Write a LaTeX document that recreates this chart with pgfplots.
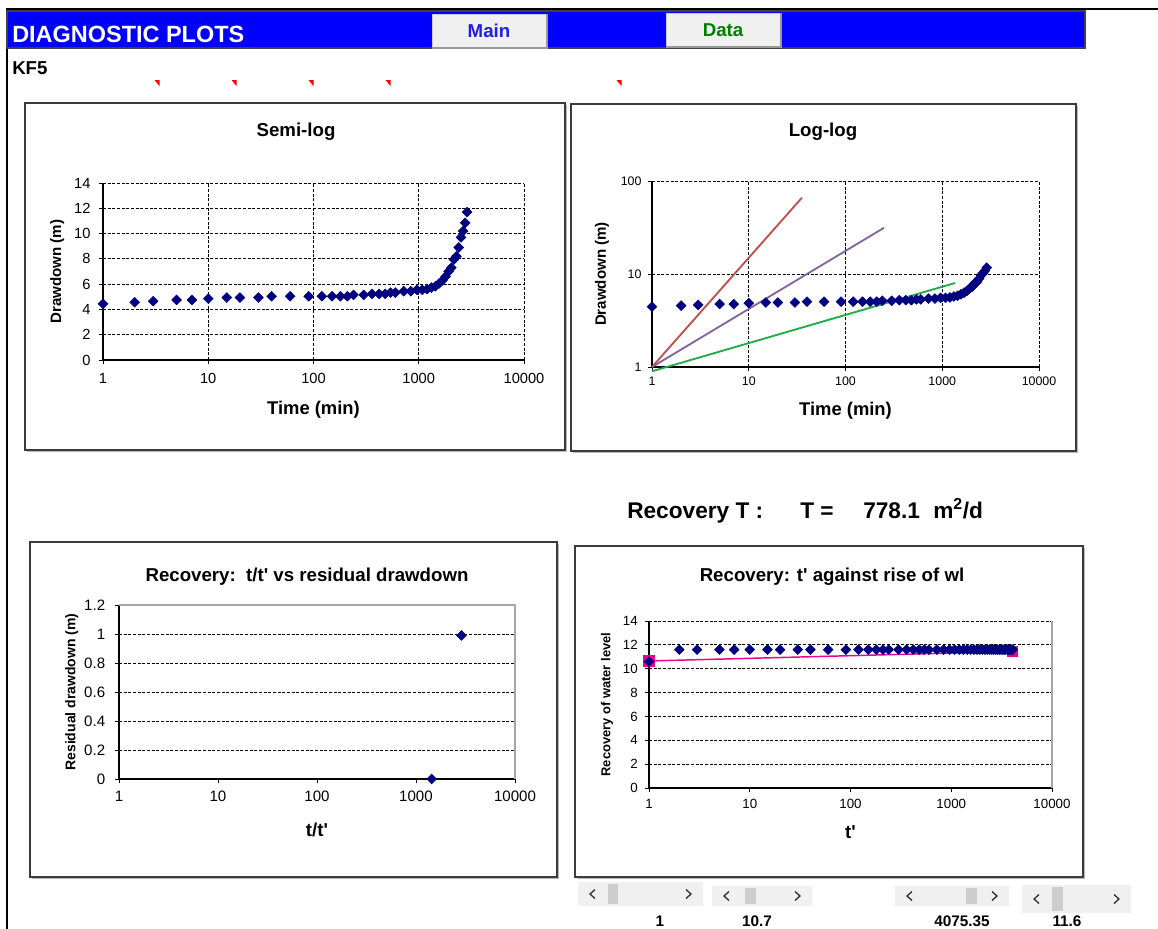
\documentclass[border=0pt]{standalone}
\usepackage{fontspec}
\setmainfont{Liberation Sans}
\usepackage{pgfplots}
\usepackage{pgfplotstable}
\pgfplotsset{compat=1.18}

\definecolor{navy}{RGB}{0,0,128}
\definecolor{llred}{RGB}{192,80,77}
\definecolor{llpurple}{RGB}{128,100,162}
\definecolor{llgreen}{RGB}{34,172,72}
\definecolor{btn}{RGB}{240,240,240}
\definecolor{thumb}{RGB}{205,205,205}
\definecolor{boxc}{RGB}{60,60,60}
\definecolor{barblue}{RGB}{0,0,255}
\definecolor{mainblue}{RGB}{30,30,230}
\definecolor{datagreen}{RGB}{0,128,0}

\newcommand{\fs}[1]{\fontsize{#1}{#1}\selectfont}
\newcommand{\q}{\textquotesingle}

% drawdown during pumping (time in min, drawdown in m)
\pgfplotstableread{
t s
1 4.45
2 4.57
3 4.65
5 4.75
7 4.75
10 4.86
15 4.94
20 4.94
30 4.94
40 5.04
60 5.04
90 5.04
120 5.04
150 5.04
180 5.04
210 5.04
240 5.15
300 5.15
360 5.23
420 5.23
480 5.23
540 5.33
600 5.33
720 5.44
840 5.44
960 5.55
1080 5.55
1200 5.6
1320 5.73
1440 5.83
1560 6.05
1680 6.3
1800 6.6
1920 7.0
2040 7.3
2160 7.95
2280 8.2
2400 8.9
2520 9.7
2640 10.2
2760 10.85
2880 11.7
}\drawdown

% recovery: t' against rise of water level
\pgfplotstableread{
t r
1 10.6
2 11.6
3 11.6
5 11.6
7 11.6
10 11.6
15 11.6
20 11.6
30 11.6
40 11.6
60 11.6
90 11.6
120 11.6
150 11.6
180 11.6
210 11.6
240 11.6
300 11.6
360 11.6
420 11.6
480 11.6
540 11.6
600 11.6
720 11.6
840 11.6
960 11.6
1080 11.6
1200 11.6
1320 11.6
1440 11.6
1560 11.6
1680 11.6
1800 11.6
1920 11.6
2040 11.6
2160 11.6
2280 11.6
2400 11.6
2520 11.6
2640 11.6
2760 11.6
2880 11.6
3000 11.6
3120 11.6
3240 11.6
3360 11.6
3480 11.6
3600 11.6
3720 11.6
3840 11.6
3960 11.6
4075.35 11.6
}\recovery

\pgfplotsset{
  every axis/.append style={
    scale only axis, xmode=log, xmin=1, xmax=10000,
    xtick={1,10,100,1000,10000}, xticklabels={1,10,100,1000,10000},
    xminorticks=false, yminorticks=false,
    axis x line*=bottom, axis y line*=left,
    axis line style={black, line width=0.9pt, -},
    tick style={black, line width=0.7pt},
    tick align=outside, major tick length=3.2pt,
    major grid style={black, line width=0.6pt, dash pattern=on 2.2pt off 1.3pt},
    clip=false,
    xticklabel style={inner sep=2pt},
    yticklabel style={inner sep=2pt},
  },
  kfmark/.style={only marks, mark=square*, mark size=2.6pt,
    mark options={rotate=45, fill=navy, draw=navy}},
}

\begin{document}
\begin{tikzpicture}[x=0.75pt, y=-0.75pt]
\useasboundingbox (0,0) rectangle (1158,929);

% sheet frame
\draw[black, line width=1.5pt] (6,8.5) -- (1158,8.5);
\draw[black, line width=1.5pt] (6.5,8) -- (6.5,929);

% header bar
\filldraw[fill=barblue, draw=gray!50!black, line width=0.8pt] (7,11) rectangle (1085,48);
\node[anchor=base west, inner sep=0, text=white, font=\fs{17.6pt}\bfseries] at (12,42) {DIAGNOSTIC PLOTS};

% buttons
\filldraw[fill=btn, draw=gray!40, line width=0.6pt] (432,14) rectangle (547,48);
\draw[gray!80, line width=1pt] (432,48) -- (547,48) -- (547,14);
\node[text=mainblue, font=\fs{14pt}\bfseries] at (489,31) {Main};
\filldraw[fill=btn, draw=gray!40, line width=0.6pt] (666,13) rectangle (781,47);
\draw[gray!80, line width=1pt] (666,47) -- (781,47) -- (781,13);
\node[text=datagreen, font=\fs{14pt}\bfseries] at (723,30) {Data};

\node[anchor=base west, inner sep=0, font=\fs{14pt}\bfseries] at (12,74) {KF5};

% comment markers
\foreach \cx in {157,234,311,388,619}{
  \fill[red] (\cx-2.5,80) -- (\cx+2.5,80) -- (\cx+2.5,86) -- cycle;
}

% chart boxes (shadow + frame)
\draw[gray!55, line width=1.2pt] (27,451.5) -- (566.5,451.5) -- (566.5,105);
\draw[boxc, line width=1pt] (25,103) rectangle (565,450);
\draw[gray!55, line width=1.2pt] (573,452.5) -- (1077.5,452.5) -- (1077.5,106);
\draw[boxc, line width=1pt] (571,104) rectangle (1076,451);
\draw[gray!55, line width=1.2pt] (32,878.5) -- (558.5,878.5) -- (558.5,544);
\draw[boxc, line width=1pt] (30,542) rectangle (557,877);
\draw[gray!55, line width=1.2pt] (577,878.5) -- (1084.5,878.5) -- (1084.5,548);
\draw[boxc, line width=1pt] (575,546) rectangle (1083,877);

% chart titles
\node[font=\fs{14pt}\bfseries] at (296,132) {Semi-log};
\node[font=\fs{14pt}\bfseries] at (823,132) {Log-log};
\node[font=\fs{14pt}\bfseries] at (307,577) {Recovery:\ \ t/t\q{} vs residual drawdown};
\node[font=\fs{14pt}\bfseries] at (832,577) {Recovery: t\q{} against rise of wl};

% Recovery T text
\node[anchor=base west, inner sep=0, font=\fs{17pt}\bfseries] at (627,518) {Recovery T :};
\node[anchor=base west, inner sep=0, font=\fs{17pt}\bfseries] at (800,518) {T =};
\node[anchor=base west, inner sep=0, font=\fs{17pt}\bfseries] at (863,518) {778.1};
\node[anchor=base west, inner sep=0, font=\fs{17pt}\bfseries] at (933,518) {m\textsuperscript{2}/d};

% ---------- Semi-log ----------
\begin{axis}[
  at={(77.25pt,-270pt)}, anchor=south west,
  width=315.75pt, height=132.75pt,
  ymin=0, ymax=14, ytick={0,2,4,6,8,10,12,14},
  yticklabels={0,2,4,6,8,10,12,14},
  grid=major,
  tick label style={font=\fs{11pt}},
  xticklabel style={yshift=-4.5pt}, yticklabel style={xshift=-4pt},
  xlabel={Time (min)}, ylabel={Drawdown (m)},
  xlabel style={at={(axis description cs:0.5,-0.282)}, anchor=center, font=\fs{13.8pt}\bfseries},
  ylabel style={at={(axis description cs:-0.109,0.5)}, anchor=center, font=\fs{11.3pt}\bfseries},
]
\addplot[kfmark] table[x=t, y=s] {\drawdown};
\end{axis}

% ---------- Log-log ----------
\begin{axis}[
  at={(489pt,-275.25pt)}, anchor=south west,
  width=290.25pt, height=139.5pt,
  ymode=log, ymin=1, ymax=100, ytick={1,10,100}, yticklabels={1,10,100},
  grid=major,
  tick label style={font=\fs{9.3pt}},
  xticklabel style={yshift=-2pt}, yticklabel style={xshift=-2.5pt},
  xlabel={Time (min)}, ylabel={Drawdown (m)},
  xlabel style={at={(axis description cs:0.5,-0.237)}, anchor=center, font=\fs{13.8pt}\bfseries},
  ylabel style={at={(axis description cs:-0.129,0.5)}, anchor=center, font=\fs{11.3pt}\bfseries},
]
\addplot[llred, line width=1.4pt] coordinates {(1,1) (35.4,66)};
\addplot[llpurple, line width=1.4pt] coordinates {(1,1) (250,31.4)};
\addplot[llgreen, line width=1.4pt] coordinates {(1,0.9) (1357,8.0)};
\addplot[kfmark] table[x=t, y=s] {\drawdown};
\end{axis}

% ---------- Recovery: t/t' vs residual drawdown ----------
\begin{axis}[
  at={(89.25pt,-584.25pt)}, anchor=south west,
  width=297pt, height=130.5pt,
  ymin=0, ymax=1.2, ytick={0,0.2,0.4,0.6,0.8,1,1.2},
  yticklabels={0,0.2,0.4,0.6,0.8,1,1.2},
  extra y ticks={0.2,0.4,0.6,0.8,1}, extra y tick labels={},
  extra y tick style={grid=major},
  tick label style={font=\fs{11.3pt}},
  xticklabel style={yshift=-3.5pt}, yticklabel style={xshift=-5pt},
  xlabel={t/t\q}, ylabel={Residual drawdown (m)},
  xlabel style={at={(axis description cs:0.5,-0.293)}, anchor=center, font=\fs{14pt}\bfseries},
  ylabel style={at={(axis description cs:-0.119,0.5)}, anchor=center, font=\fs{10.5pt}\bfseries},
]
\draw[gray!70, line width=0.8pt] (rel axis cs:0,1) -- (rel axis cs:1,1) -- (rel axis cs:1,0);
\addplot[kfmark] coordinates {(1440,0) (2880,0.99)};
\end{axis}

% ---------- Recovery: t' against rise of wl ----------
\begin{axis}[
  at={(486.75pt,-591pt)}, anchor=south west,
  width=302.25pt, height=125.25pt,
  ymin=0, ymax=14, ytick={0,2,4,6,8,10,12,14},
  yticklabels={0,2,4,6,8,10,12,14},
  ymajorgrids=true,
  tick label style={font=\fs{10pt}},
  xticklabel style={yshift=-3pt}, yticklabel style={xshift=-3pt},
  xlabel={t\q}, ylabel={Recovery of water level},
  xlabel style={at={(axis description cs:0.5,-0.263)}, anchor=center, font=\fs{14pt}\bfseries},
  ylabel style={at={(axis description cs:-0.104,0.5)}, anchor=center, font=\fs{9.7pt}\bfseries},
]
\draw[gray!70, line width=0.8pt] (rel axis cs:1,1) -- (rel axis cs:1,0);
\addplot[magenta, line width=1.1pt, mark=square*, mark size=3.6pt,
  mark options={fill=magenta, draw=magenta}] coordinates {(1,10.65) (4075.35,11.45)};
\addplot[kfmark] table[x=t, y=r] {\recovery};
\end{axis}

% ---------- scroll bars ----------
\newcommand{\scroll}[6]{% x1,y1,x2,y2,thumb x1,thumb x2
  \fill[btn] (#1,#2) rectangle (#3,#4);
  \fill[thumb] (#5,#2+2) rectangle (#6,#4-2);
  \draw[gray!40!black, line width=1pt] (#1+17,{(#2+#4)/2-4.5}) -- (#1+12,{(#2+#4)/2}) -- (#1+17,{(#2+#4)/2+4.5});
  \draw[gray!40!black, line width=1pt] (#3-17,{(#2+#4)/2-4.5}) -- (#3-12,{(#2+#4)/2}) -- (#3-17,{(#2+#4)/2+4.5});
}
\scroll{578}{882}{703}{906}{608}{618}
\scroll{712}{886}{812}{906}{745}{756}
\scroll{895}{886}{1009}{906}{966}{977}
\scroll{1022}{885}{1131}{913}{1052}{1063}
\node[anchor=base, inner sep=0, font=\fs{11.5pt}\bfseries] at (660,926) {1};
\node[anchor=base, inner sep=0, font=\fs{11.5pt}\bfseries] at (757,926) {10.7};
\node[anchor=base, inner sep=0, font=\fs{11.5pt}\bfseries] at (962,926) {4075.35};
\node[anchor=base, inner sep=0, font=\fs{11.5pt}\bfseries] at (1067,926) {11.6};
\end{tikzpicture}
\end{document}
